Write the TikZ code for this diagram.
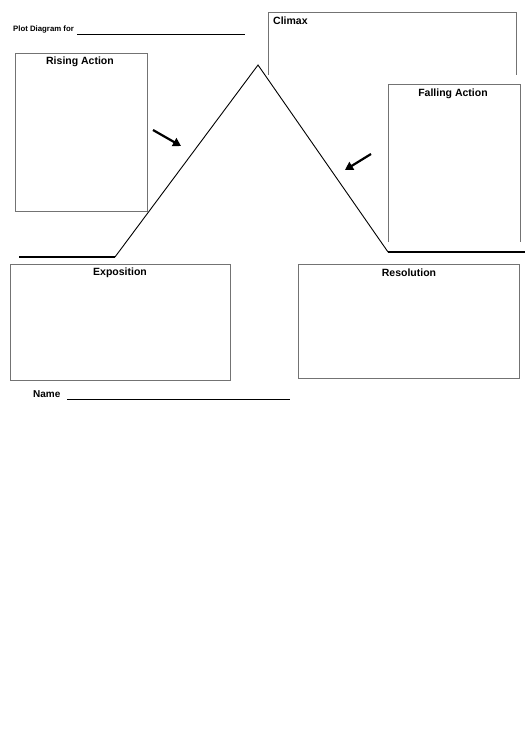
\documentclass[tikz,border=0pt]{standalone}
\usepackage{fontspec}
\setmainfont{Liberation Sans}
\usetikzlibrary{arrows.meta}
\begin{document}
\begin{tikzpicture}[x=1pt,y=-1pt,
  box/.style={draw=black!55,line width=0.9pt,inner sep=0pt,anchor=north west},
  ttl/.style={font=\bfseries\fontsize{10.5}{12}\selectfont,inner sep=0pt},
  plotline/.style={draw=black,line width=0.9pt},
  baseln/.style={draw=black,line width=1.3pt},
  fill line/.style={draw=black,line width=0.8pt},
  hint/.style={draw=black,line width=2.2pt,-{Triangle[length=8pt,width=9pt]}}]
\useasboundingbox (0,0) rectangle (530,749);
% header
\node[font=\bfseries\fontsize{7.8}{9}\selectfont,inner sep=0pt,anchor=west] (hdr) at (13,30) {Plot Diagram for};
\coordinate (h1) at (77,34); \coordinate (h2) at (245,34);
\draw[fill line] (h1) -- (h2);
% rising action
\node[box,minimum width=132pt,minimum height=158pt] (rise) at (15,53) {};
\node[ttl] (riset) at (80,62) {Rising Action};
% climax (open box)
\coordinate (c1) at (268,75); \coordinate (c2) at (268,12);
\coordinate (c3) at (516,12); \coordinate (c4) at (516,75);
\draw[draw=black!55,line width=0.9pt] (c1) -- (c2) -- (c3) -- (c4);
\node[ttl,anchor=west] (climt) at (273,21) {Climax};
% falling action (open box)
\coordinate (f1) at (388,242); \coordinate (f2) at (388,84);
\coordinate (f3) at (520,84); \coordinate (f4) at (520,242);
\draw[draw=black!55,line width=0.9pt] (f1) -- (f2) -- (f3) -- (f4);
\node[ttl] (fallt) at (453,94) {Falling Action};
% plot line
\coordinate (b0) at (19,257);
\coordinate (lft) at (115,257);
\coordinate (peak) at (258,65);
\coordinate (rgt) at (388,252);
\coordinate (b1) at (525,252);
\draw[baseln] (b0) -- (lft);
\draw[plotline] (lft) -- (peak) -- (rgt);
\draw[baseln] (rgt) -- (b1);
% arrows
\coordinate (a1) at (153,130); \coordinate (a2) at (181,146);
\draw[hint] (a1) -- (a2);
\coordinate (a3) at (371,154); \coordinate (a4) at (345,170);
\draw[hint] (a3) -- (a4);
% exposition
\node[box,minimum width=220pt,minimum height=116pt] (expo) at (10,264) {};
\node[ttl] (expot) at (120,273) {Exposition};
% resolution
\node[box,minimum width=221pt,minimum height=114pt] (reso) at (298,264) {};
\node[ttl] (resot) at (409,273) {Resolution};
% name
\node[font=\bfseries\fontsize{10}{12}\selectfont,inner sep=0pt,anchor=west] (nm) at (33,394) {Name};
\coordinate (n1) at (67,399); \coordinate (n2) at (290,399);
\draw[fill line] (n1) -- (n2);
\end{tikzpicture}
\end{document}
